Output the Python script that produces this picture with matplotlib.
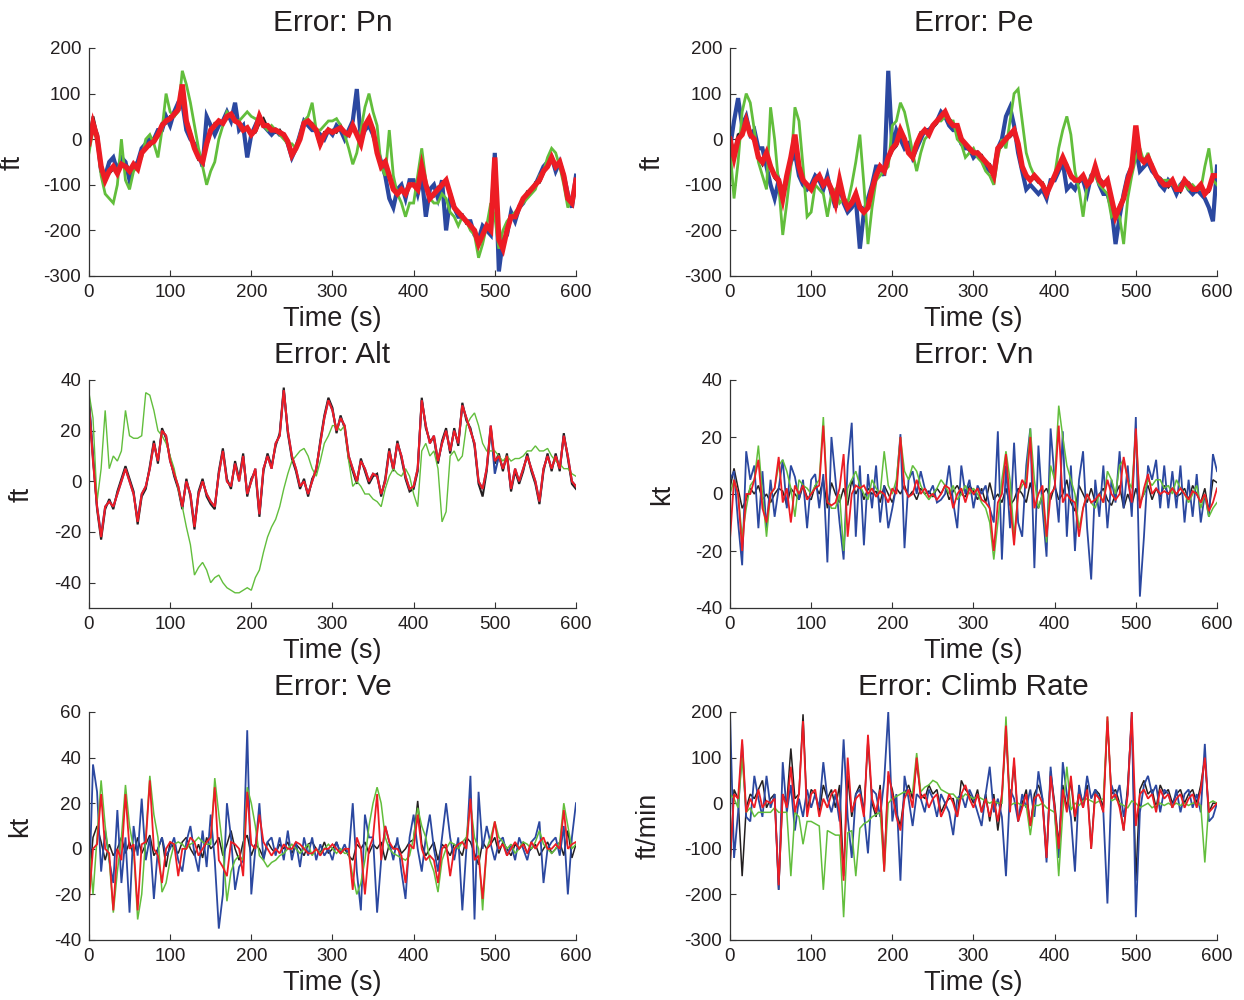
import matplotlib
matplotlib.use("Agg")
import matplotlib.pyplot as plt

plt.rcParams['font.family'] = ['Liberation Sans', 'DejaVu Sans']
plt.rcParams['axes.unicode_minus'] = False

# Sample times (s), one value every 5 s
TIME = list(range(0, 605, 5))

# ---------------- Error: Pn (ft) ----------------
PN_BLACK = [-5, 50, 10, -55, -85, -75, -65, -70, -60, -55,
            -65, -60, -60, -35, -15, -15, 0, 5, 35, 35,
            50, 50, 70, 90, 45, 15, -15, -45, -45, -15,
            15, 35, 35, 40, 45, 50, 45, 30, 25, 20,
            15, 15, 35, 45, 25, 25, 15, 20, 5, -10,
            -40, -15, 5, 40, 35, 35, 15, -15, 15, 15,
            20, 15, 30, 10, 15, 25, 15, -5, 25, 40,
            25, -25, -65, -45, -85, -105, -115, -115, -115, -105,
            -95, -105, -70, -95, -125, -125, -105, -105, -95, -115,
            -145, -165, -165, -185, -185, -205, -225, -205, -195, -195,
            -60, -215, -235, -205, -165, -175, -145, -135, -115, -115,
            -95, -95, -75, -55, -45, -55, -55, -75, -125, -135,
            -95]
PN_BLUE = [0, 30, 10, -70, -80, -50, -40, -70, -40, -50,
           -90, -60, -50, -20, -10, 0, 0, 20, 20, 50,
           30, 60, 80, 80, 20, 0, -10, -30, -60, 50,
           30, 10, 30, 40, 60, 40, 80, 20, 30, -40,
           10, 30, 50, 30, 20, 10, 20, 10, 10, -10,
           -40, -20, 10, 40, 30, 20, 20, 10, 0, 20,
           10, 30, 20, 0, 20, 40, 110, 0, 20, 30,
           10, -20, -50, -80, -130, -150, -110, -100, -130, -90,
           -90, -120, -80, -170, -110, -100, -130, -90, -200, -130,
           -150, -170, -170, -180, -180, -210, -220, -190, -200, -210,
           -30, -290, -220, -210, -160, -180, -150, -140, -120, -110,
           -100, -80, -60, -50, -40, -70, -50, -80, -120, -150,
           -80]
PN_GREEN = [-30, 20, 0, -80, -120, -130, -140, -100, 0, -90,
            -110, -70, -60, -40, 0, 10, -10, -40, 20, 100,
            60, 50, 60, 150, 120, 80, 30, -20, -60, -100,
            -70, -50, 0, 30, 60, 50, 40, 40, 50, 60,
            50, 45, 40, 30, 20, 30, 20, 10, 0, -10,
            -10, -20, 10, 40, 50, 80, 20, 20, 30, 40,
            40, 45, 30, 10, -20, -55, -30, 20, 70, 100,
            60, 30, -60, -80, 20, -80, -120, -140, -170, -140,
            -140, -80, -20, -90, -130, -140, -140, -120, -130, -160,
            -170, -190, -170, -180, -200, -210, -260, -230, -190, -140,
            -170, -240, -200, -180, -170, -160, -150, -140, -130, -120,
            -110, -80, -70, -40, -20, -30, -60, -100, -150, -130,
            -120]
PN_RED = [-10, 35, 5, -60, -90, -70, -60, -75, -55, -60,
          -70, -55, -65, -30, -20, -10, -5, 10, 30, 40,
          45, 55, 65, 120, 40, 10, -20, -40, -50, -10,
          20, 30, 40, 35, 50, 55, 40, 35, 20, 25,
          10, 20, 50, 30, 30, 20, 20, 15, 10, -5,
          -35, -20, 0, 35, 40, 30, 20, -10, 10, 20,
          15, 20, 25, 15, 10, 30, 10, -10, 30, 45,
          20, -30, -60, -50, -80, -110, -120, -110, -120, -100,
          -100, -110, -60, -100, -130, -120, -110, -100, -90, -120,
          -150, -160, -170, -180, -190, -200, -230, -210, -190, -200,
          -40, -220, -240, -200, -170, -170, -150, -130, -120, -110,
          -100, -90, -70, -60, -40, -60, -50, -80, -130, -140,
          -90]

# ---------------- Error: Pe (ft) ----------------
PE_BLACK = [5, -30, 10, 15, 30, 15, -5, -35, -55, -35,
            -55, -85, -95, -120, -85, -45, 0, -55, -95, -105,
            -105, -95, -85, -95, -95, -105, -135, -95, -125, -145,
            -135, -125, -145, -155, -145, -115, -85, -65, -75, -45,
            -25, -15, 15, 5, -25, -35, -15, 15, 15, 15,
            25, 35, 55, 55, 45, 35, 25, 5, -15, -25,
            -25, -35, -35, -55, -55, -75, -25, -15, 5, 5,
            15, -15, -55, -85, -85, -85, -95, -95, -115, -95,
            -85, -55, -45, -55, -85, -85, -95, -85, -95, -85,
            -65, -85, -95, -95, -125, -175, -145, -125, -95, -65,
            20, -45, -45, -45, -55, -85, -85, -95, -105, -95,
            -105, -115, -95, -95, -105, -115, -105, -115, -115, -85,
            -85]
PE_BLUE = [-20, 40, 90, 30, 50, 10, 20, -20, -20, -60,
           -100, -130, -90, -120, -90, -50, -30, -80, -100, -110,
           -100, -80, -90, -110, -80, -120, -150, -100, -140, -160,
           -150, -130, -240, -160, -130, -100, -60, -60, -80, 150,
           -20, 20, 0, -20, -10, -40, -20, 0, 20, 20,
           30, 40, 60, 50, 30, 20, 20, -10, -20, -20,
           -40, -30, -40, -60, -70, -70, -20, 0, 50, 70,
           30, -30, -70, -110, -100, -110, -120, -110, -130, -90,
           -90, -70, -50, -110, -100, -110, -90, -90, -120, -80,
           -70, -100, -120, -120, -150, -230, -170, -120, -80, -60,
           -20, -70, -60, -50, -70, -80, -100, -110, -90, -100,
           -120, -100, -90, -110, -120, -110, -120, -130, -150, -180,
           -60]
PE_GREEN = [-20, -130, -50, 60, 100, 80, 20, -50, -80, -110,
            70, 0, -100, -210, -140, -60, 70, 40, -60, -170,
            -160, -100, -110, -120, -170, -120, -110, -140, -130, -140,
            -100, -50, 10, -100, -230, -150, -90, -80, -70, -60,
            30, 40, 80, 60, 20, -30, -70, -30, 0, 10,
            30, 40, 40, 50, 40, 40, 0, -10, -40, -30,
            -20, -40, -50, -70, -80, -100, -40, 0, -20, 40,
            100, 110, 40, -30, -60, -80, -90, -100, -110, -100,
            -80, -20, 20, 50, 10, -70, -110, -170, -100, -80,
            -80, -100, -110, -120, -170, -160, -170, -230, -130, -80,
            -40, -20, -50, -30, -60, -80, -90, -90, -90, -100,
            -110, -100, -100, -110, -100, -110, -110, -60, -20, -90,
            -100]
PE_RED = [0, -40, 0, 10, 40, 10, 0, -40, -50, -30,
          -60, -80, -90, -130, -80, -40, 10, -60, -90, -100,
          -110, -90, -80, -100, -90, -110, -140, -90, -130, -150,
          -140, -120, -150, -160, -150, -110, -80, -60, -70, -40,
          -20, -10, 20, 0, -30, -40, -10, 10, 20, 10,
          30, 40, 50, 60, 40, 30, 30, 0, -10, -20,
          -30, -30, -40, -50, -60, -80, -20, -10, 0, 10,
          20, -10, -60, -80, -90, -80, -90, -100, -120, -100,
          -80, -60, -40, -60, -80, -90, -90, -80, -100, -90,
          -60, -90, -100, -90, -130, -170, -150, -130, -90, -60,
          30, -40, -50, -40, -60, -80, -90, -100, -100, -90,
          -110, -110, -90, -100, -110, -110, -100, -120, -110, -80,
          -80]

# ---------------- Error: Alt (ft) ----------------
ALT_BLACK = [31, 10, -11, -23, -11, -7, -11, -4, 1, 6,
             1, -4, -17, -6, -3, 6, 16, 7, 21, 17,
             9, 2, -3, -11, 1, -6, -19, -4, 1, -6,
             -9, -11, 4, 13, 1, -3, 8, 1, 11, -6,
             1, 4, -14, 4, 11, 6, 14, 19, 37, 19,
             9, 4, -3, 1, -6, 1, 4, 16, 26, 33,
             29, 19, 26, 21, 9, 4, -1, 9, 4, -1,
             2, 3, -6, 1, 13, 4, 16, 9, 1, -4,
             -3, 4, 33, 21, 16, 17, 7, 16, 21, 11,
             21, 14, 31, 24, 21, 14, -1, -6, 4, 21,
             7, 11, 4, 11, -4, 4, -1, 4, 11, 4,
             -1, -9, 4, 11, 4, 11, 4, 19, 9, -1,
             -3]
ALT_BLUE = [33, 9, -10, -21, -10, -8, -10, -5, 0, 5,
            0, -5, -15, -5, -2, 5, 15, 8, 20, 18,
            8, 3, -2, -10, 0, -5, -17, -5, 0, -5,
            -8, -10, 3, 12, 0, -2, 7, 0, 10, -5,
            0, 5, -13, 5, 10, 5, 15, 18, 36, 20,
            10, 5, -2, 0, -5, 0, 5, 15, 25, 32,
            28, 20, 25, 22, 10, 5, 0, 8, 5, 0,
            3, 2, -5, 0, 12, 5, 15, 10, 2, -3,
            -2, 5, 32, 22, 15, 18, 8, 15, 20, 12,
            20, 15, 30, 25, 20, 15, 0, -3, 5, 22,
            3, 10, 5, 10, -3, 5, 0, 5, 10, 5,
            0, -8, 5, 10, 5, 10, 5, 18, 10, 0,
            -2]
ALT_GREEN = [35, 25, -8, 5, 28, 5, 10, 8, 12, 28,
             18, 17, 17, 18, 35, 34, 28, 20, 18, 15,
             10, 5, -3, -10, -18, -25, -37, -34, -32, -35,
             -40, -38, -37, -40, -42, -43, -44, -44, -43, -42,
             -43, -38, -35, -28, -22, -18, -15, -10, -3, 3,
             8, 10, 12, 13, 10, 5, 2, 8, 15, 18,
             22, 22, 20, 22, 8, -2, 0, -2, -5, -5,
             -7, -8, -10, -3, 2, 5, 3, 2, 5, 2,
             -5, -10, 12, 15, 10, 12, 5, -16, -12, 10,
             12, 8, 10, 22, 25, 27, 22, 15, 12, 12,
             12, 10, 8, 10, 8, 9, 9, 10, 12, 12,
             14, 12, 12, 13, 10, 8, 7, 5, 5, 3,
             2]
ALT_RED = [30, 8, -10, -22, -10, -8, -10, -5, 0, 5,
           0, -5, -16, -5, -2, 5, 15, 8, 20, 18,
           8, 3, -2, -10, 0, -5, -18, -5, 0, -5,
           -8, -10, 3, 12, 0, -2, 7, 0, 10, -5,
           0, 5, -13, 5, 10, 5, 15, 18, 36, 20,
           10, 5, -2, 0, -5, 0, 5, 15, 25, 32,
           28, 20, 25, 22, 10, 5, 0, 8, 5, 0,
           3, 2, -5, 0, 12, 5, 15, 10, 2, -3,
           -2, 5, 32, 22, 15, 18, 8, 15, 20, 12,
           20, 15, 30, 25, 20, 15, 0, -3, 5, 22,
           8, 10, 5, 10, -3, 5, 0, 5, 10, 5,
           0, -8, 5, 10, 5, 10, 5, 18, 10, 0,
           -2]

# ---------------- Error: Vn (kt) ----------------
VN_BLACK = [2, 9, 2, -5, -2, 2, 0, 3, -2, 0,
            -3, 0, 2, 1, -4, 2, 0, -2, 3, -1,
            -2, 3, 0, 5, -5, 4, 0, -3, 2, -4,
            5, 0, 3, -2, 2, 0, 1, -3, 3, 0,
            -3, 2, 0, 3, -1, 1, -2, 2, 0, 1,
            -1, 2, 0, 3, -2, 1, 3, 0, -1, 3,
            1, -2, 2, -3, 4, -2, 0, -3, 2, -4,
            -2, 2, 0, -3, 4, -3, -5, 0, 2, -2,
            3, -2, 0, 5, -3, -6, 3, 0, -3, 2,
            -3, 0, 2, -2, -4, 0, 3, -5, 0, -4,
            2, -3, 0, 3, -2, 2, -1, 3, 0, 2,
            -1, 0, 2, -2, 3, 0, -3, 2, -6, 5,
            4]
VN_BLUE = [5, 8, -10, -25, 15, 5, 10, -12, 8, -12,
           5, -8, 2, 12, -5, 10, 6, -2, 5, -12,
           5, 7, -5, 7, -24, 20, 5, -10, -23, 10,
           25, -15, 10, -18, 7, -5, 10, -10, 3, -12,
           -5, 3, 21, -19, 5, 8, 0, 8, 2, 0,
           3, -3, -2, 0, 10, -3, -12, 10, 0, 5,
           -5, 3, 0, 3, -5, -10, 22, -23, 10, -12,
           18, -10, -15, 10, 23, -26, 17, -5, -22, 23,
           5, -10, 22, -15, 10, -20, 5, 15, -12, -30,
           5, -8, 10, -12, 5, -3, 15, -5, 10, -8,
           27, -36, -15, 10, 5, 12, -5, 10, -5, 8,
           -5, 10, -10, 5, -8, 7, -10, 0, -8, 14,
           8]
VN_GREEN = [0, 5, 0, -15, -5, 3, 5, 17, 0, -15,
            0, 2, 10, 12, 8, 2, -8, 5, 3, 2,
            0, 3, 5, 27, -2, -5, -5, 0, -20, 2,
            5, 8, 3, 0, -2, 5, 2, 0, 15, 3,
            0, 5, 20, 8, 5, 10, 8, 3, 0, -2,
            0, 2, 5, 3, 0, 3, -2, 0, 3, 0,
            2, 0, -3, -5, -10, -23, -10, 5, 15, 5,
            -15, 0, 3, 5, 23, 5, -5, 0, -17, 10,
            5, 31, 20, 10, 5, 0, -12, -5, 0, -3,
            -5, 0, -3, 8, 5, 0, 10, 12, 5, 2,
            22, -3, 0, 5, 3, 5, 5, 2, 3, 0,
            5, 2, 0, -3, 0, 3, -5, 0, -8, -5,
            -3]
VN_RED = [-16, 5, 0, -20, 0, 0, 5, 12, -5, -10,
          0, 2, 13, -3, 2, -10, 3, 0, 3, -2,
          0, 2, 3, 24, -3, -4, -3, 2, 14, -15,
          0, 3, 2, 3, 0, 2, -1, 1, 0, -3,
          2, 0, 20, 2, -1, 0, 5, 0, 2, -1,
          0, -2, 0, 3, 2, -5, 0, 2, -3, 2,
          0, 2, -2, -3, -5, -20, -3, 0, 14, -3,
          -18, 0, 5, 2, 20, -5, 0, 3, -15, 0,
          2, 24, -3, 0, -2, -3, -15, -5, 0, -3,
          -2, 0, -3, 5, 0, -2, 0, 13, 5, -3,
          23, -5, 2, 7, 0, 2, 0, 1, 0, 2,
          0, 2, 0, -2, 1, 0, -3, 0, -6, -3,
          2]

# ---------------- Error: Ve (kt) ----------------
VE_BLACK = [-15, 5, 10, 3, -5, 2, -3, 0, 5, -2,
            3, -3, 5, -2, 2, 6, -3, 0, 5, -8,
            3, 0, -2, 3, 5, 0, -3, 2, -4, 5,
            0, 2, 5, -3, 2, 8, 0, -5, 3, 6,
            -3, 2, 0, -4, 3, 0, -2, 2, 0, 3,
            -2, 2, 0, -3, 2, 3, 0, -2, 3, -2,
            0, 3, -2, 0, -3, -5, 2, 0, 3, -2,
            2, 0, 3, -5, 2, 0, 3, -2, 0, 3,
            4, 21, 2, -3, 0, 3, -5, 2, 0, -3,
            2, 0, -3, 5, 3, -2, -7, 3, 0, 2,
            5, -2, 3, 0, -3, 2, 0, 3, -2, 0,
            2, -3, 0, 3, -2, 0, 3, -3, 8, -4,
            2]
VE_BLUE = [-20, 37, 25, -10, 8, -5, -15, 17, -15, 5,
           -28, 10, -3, 22, -5, 5, -22, 0, 5, -3,
           0, 5, -5, -10, 3, 10, -2, -10, 8, -8,
           15, -5, -35, -20, 20, 5, -18, -8, -5, 52,
           -20, 0, 20, -5, 3, 5, -3, 5, -5, 8,
           -5, 3, -8, 5, -3, 5, -5, 2, -3, 0,
           -5, 3, -2, 2, -3, 20, -10, -27, 15, 5,
           5, -28, -5, 10, 3, -5, 5, -10, -22, 5,
           15, 0, -10, 5, 15, 0, -10, 5, 20, 5,
           -5, 5, -27, 0, 32, -31, 25, 0, 10, 2,
           -5, 3, 5, -3, 2, -5, 5, 0, -5, 3,
           5, 12, -15, 0, 3, 5, -3, 10, -20, 5,
           20]
VE_GREEN = [2, -20, 5, 30, 10, -5, -28, -10, 5, 28,
            10, 0, -31, -20, 5, 32, 15, 5, -19, -15,
            -5, 2, 3, 2, 0, 2, 3, 5, 3, 2,
            2, 31, 15, 0, -23, -10, -5, -3, -5, 27,
            20, 10, -3, -5, -8, -6, -5, -3, -2, 0,
            2, 0, -2, 0, 2, -3, 0, -2, 0, 2,
            0, -2, 0, -2, -2, -12, -20, -15, -5, 10,
            20, 27, 20, 5, 0, -2, -3, -4, -5, -3,
            5, 18, 10, 5, -5, -10, -19, -5, 0, 3,
            2, 0, 3, 5, 20, 5, 0, -27, 0, 5,
            12, 5, 3, 0, 2, -2, 0, 3, 2, 0,
            3, 8, 2, 0, -2, 0, 3, 20, 10, 0,
            2]
VE_RED = [-23, 0, 2, 24, 0, -2, -27, 0, -5, 24,
          0, 2, -27, 2, 3, 30, 0, -3, -15, 0,
          3, 2, -12, 0, 0, 5, 3, -3, 0, 3,
          5, 27, -5, -8, -12, 3, 2, 0, -12, 25,
          2, 0, 15, 3, 0, -3, 0, -2, 2, 0,
          0, 3, 2, 0, -2, -2, 0, -3, 0, 0,
          2, 0, -2, 0, 0, -18, 5, 0, -20, 0,
          5, 24, -5, 10, 3, 0, 0, -3, -15, 2,
          0, 15, 0, -5, -3, -5, -15, 0, 2, -12,
          0, 2, 3, 0, 22, -5, -3, -22, 0, 2,
          12, 0, 2, -3, 0, 3, 0, 2, -2, 3,
          0, 3, 5, 0, 0, 2, 0, 17, 0, 2,
          3]

# ---------------- Error: Climb Rate (ft/min) ----------------
CR_BLACK = [-140, 30, 10, -160, -10, 20, 10, 30, 50, -10,
            10, 20, -190, 20, 0, 120, 10, 20, 195, -20,
            30, 20, -20, 40, 10, 30, -10, 40, -160, 60,
            -30, 20, 40, -20, 140, 0, -30, 40, -140, 60,
            30, -20, -50, 20, 40, 10, 90, 20, 10, 40,
            20, 30, -20, 0, 10, 10, -30, 50, 30, 20,
            0, 30, -20, 20, -40, 20, -60, 10, 160, -10,
            90, -40, 0, 30, -50, 20, 40, 10, -120, 70,
            0, -90, 40, -10, 50, -40, 30, 0, 40, -100,
            30, 20, -10, 180, 20, 30, 0, -60, 40, 190,
            -170, 30, 50, 20, 30, -10, 40, 20, 30, 0,
            20, 30, 0, 20, 30, 0, 40, 100, -20, 0,
            0]
CR_BLUE = [200, -120, -20, 130, -30, -40, 60, 10, -30, 60,
           -10, 20, -190, 90, -20, 40, -60, 10, -30, 30,
           -10, 20, -10, 90, 10, -20, 20, -40, 140, -30,
           -120, 20, 30, -20, -110, 30, 20, -30, 50, 200,
           -40, 20, -170, 60, 10, -50, 20, 10, -20, 30,
           10, -30, 20, 0, -20, -70, 10, 20, -10, 30,
           10, -20, -50, 20, 80, -20, 10, -30, -160, 30,
           10, -40, 20, -10, 30, -30, 70, 10, -130, 80,
           -20, -120, 90, 20, -30, -150, 40, -10, 60, 10,
           30, 10, -20, -220, 40, 10, 40, -30, 20, 200,
           -250, -20, 40, 60, 20, 40, -20, 30, 20, -10,
           30, -20, 20, 30, -10, 20, -20, 130, -40, -30,
           0]
CR_GREEN = [20, 10, -10, 100, -20, -10, -30, -20, -20, -20,
            -20, -10, -20, -20, -20, -160, -20, -30, -90, -40,
            -40, -45, -50, -190, -60, -65, -70, -70, -250, -65,
            -60, -160, -55, -45, -40, -30, -25, -20, -150, 0,
            10, 15, 20, 25, 20, 25, 110, 25, 35, 40,
            50, 45, 30, 25, 20, 20, 10, 10, 20, 15,
            10, 15, 10, 5, 0, 5, 0, 0, 190, -5,
            0, 0, -5, -5, -70, -5, -5, 0, -10, -15,
            -20, -160, -20, 80, -15, 0, -5, 5, 10, 5,
            0, 5, 10, 190, 5, 10, 0, -5, -10, 5,
            0, -10, -5, 0, -10, -5, 0, -5, 0, -5,
            0, -5, 0, -5, 0, 0, -5, -130, 0, 5,
            0]
CR_RED = [-130, 20, 10, 140, -20, 10, -10, 30, -10, 5,
          0, 10, -180, 20, -10, 80, -20, 20, 180, -30,
          20, 30, -30, 10, -10, 20, 30, -20, -170, 100,
          -20, 10, 20, -30, 150, 10, -20, 30, -150, 70,
          20, -30, -60, 10, 30, -10, 100, 10, 20, -10,
          10, 20, -30, -10, 20, 0, -30, 20, 40, 10,
          -10, 20, -20, 10, -30, 10, -40, 20, 170, -20,
          100, -40, -10, 20, -50, 10, 20, 0, -120, 60,
          -10, -100, 30, -20, 60, -30, 20, -10, 30, -100,
          20, 10, -20, 190, 10, 20, -10, -60, 20, 200,
          -50, 20, 30, 10, 20, -20, 30, 10, 20, -10,
          10, 20, -10, 10, 20, -10, 30, 100, -20, -10,
          0]

C_BLACK = '#231f20'
C_BLUE = '#2b48a0'
C_GREEN = '#62be3c'
C_RED = '#ed1c24'

panels = [
    ("Error: Pn", "ft", (-300, 200), range(-300, 201, 100),
     (PN_BLACK, PN_BLUE, PN_GREEN, PN_RED), (2.0, 3.0, 2.0, 3.8), -0.131),
    ("Error: Pe", "ft", (-300, 200), range(-300, 201, 100),
     (PE_BLACK, PE_BLUE, PE_GREEN, PE_RED), (2.0, 3.0, 2.0, 3.8), -0.133),
    ("Error: Alt", "ft", (-50, 40), range(-40, 41, 20),
     (ALT_BLACK, ALT_BLUE, ALT_GREEN, ALT_RED), (1.5, 1.5, 1.0, 1.5), -0.111),
    ("Error: Vn", "kt", (-40, 40), range(-40, 41, 20),
     (VN_BLACK, VN_BLUE, VN_GREEN, VN_RED), (1.1, 1.3, 1.1, 1.3), -0.113),
    ("Error: Ve", "kt", (-40, 60), range(-40, 61, 20),
     (VE_BLACK, VE_BLUE, VE_GREEN, VE_RED), (1.1, 1.3, 1.1, 1.3), -0.115),
    ("Error: Climb Rate", "ft/min", (-300, 200), range(-300, 201, 100),
     (CR_BLACK, CR_BLUE, CR_GREEN, CR_RED), (1.1, 1.3, 1.1, 1.3), -0.140),
]

fig = plt.figure(figsize=(12.44, 10), dpi=100)

lefts = [0.0715, 0.5868]
bottoms = [0.724, 0.392, 0.060]
width, height = 0.3915, 0.228

for i, (title, ylab, ylim, yticks, series, widths, ylab_x) in enumerate(panels):
    row, col = divmod(i, 2)
    ax = fig.add_axes([lefts[col], bottoms[row], width, height])
    for vals, color, lw in zip(series, (C_BLACK, C_BLUE, C_GREEN, C_RED), widths):
        ax.plot(TIME, vals, color=color, lw=lw, solid_joinstyle='miter')
    ax.set_xlim(0, 600)
    ax.set_ylim(*ylim)
    ax.set_xticks(range(0, 601, 100))
    ax.set_yticks(list(yticks))
    for side in ('top', 'right'):
        ax.spines[side].set_visible(False)
    for side in ('left', 'bottom'):
        ax.spines[side].set_color('#333333')
        ax.spines[side].set_linewidth(0.9)
    ax.tick_params(direction='in', length=4, width=0.8, color='#333333',
                   labelsize=13.5, labelcolor='#231f20', pad=5.5)
    ax.set_title(title, fontsize=21.5, color='#231f20', pad=12)
    ax.set_xlabel("Time (s)", fontsize=19.5, color='#231f20', labelpad=4)
    ax.set_ylabel(ylab, fontsize=19.5, color='#231f20')
    ax.yaxis.set_label_coords(ylab_x, 0.5)

fig.savefig("out.png", dpi=100)
